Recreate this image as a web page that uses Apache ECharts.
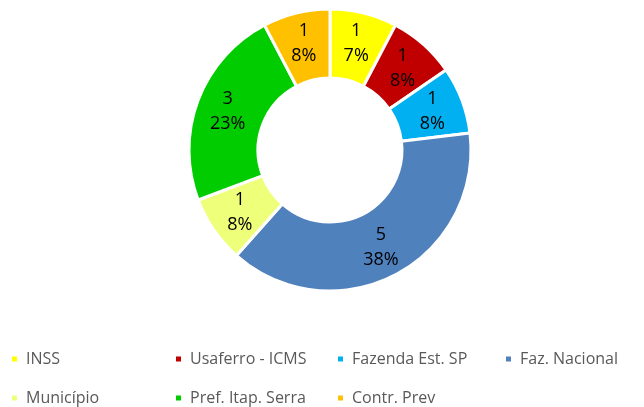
<!DOCTYPE html>
<html>
<head>
<meta charset="utf-8">
<script src="https://cdn.jsdelivr.net/npm/echarts@6/dist/echarts.min.js"></script>
<style>
  html, body { margin: 0; padding: 0; background: #fff; }
  #chart { width: 644px; height: 407px; }
</style>
</head>
<body>
<div id="chart"></div>
<script>
// dados do gráfico
var categorias = ['INSS', 'Usaferro - ICMS', 'Fazenda Est. SP', 'Faz. Nacional', 'Município', 'Pref. Itap. Serra', 'Contr. Prev'];
var valores = [1, 1, 1, 5, 1, 3, 1];
var percentuais = ['7%', '8%', '8%', '38%', '8%', '23%', '8%'];
var cores = ['#FFFF00', '#C00000', '#00B0F0', '#4F81BD', '#EEFF7A', '#00CC00', '#FFC000'];

// posição de cada item da legenda (duas linhas)
var legendaPos = [
  [5, 346], [169, 346], [331, 346], [499, 346],
  [5, 385], [169, 385], [331, 385]
];

var myChart = echarts.init(document.getElementById('chart'));

var legendas = categorias.map(function (nome, i) {
  return {
    left: legendaPos[i][0],
    top: legendaPos[i][1],
    orient: 'horizontal',
    itemWidth: 7,
    itemHeight: 7,
    itemGap: 0,
    icon: 'rect',
    selectedMode: false,
    data: [nome],
    textStyle: {
      color: '#595959',
      fontSize: 16,
      fontFamily: 'Open Sans, sans-serif',
      padding: [0, 0, 0, 3]
    }
  };
});

myChart.setOption({
  animation: false,
  color: cores,
  legend: legendas,
  series: [{
    type: 'pie',
    center: [330, 150],
    radius: [72, 141],
    startAngle: 90,
    clockwise: true,
    avoidLabelOverlap: false,
    itemStyle: {
      borderColor: '#fff',
      borderWidth: 3
    },
    label: {
      show: true,
      position: 'inside',
      color: '#000',
      fontSize: 18,
      lineHeight: 25,
      fontFamily: 'Open Sans, sans-serif',
      formatter: function (p) {
        return valores[p.dataIndex] + '\n' + percentuais[p.dataIndex];
      }
    },
    labelLine: { show: false },
    data: categorias.map(function (nome, i) {
      return { name: nome, value: valores[i] };
    })
  }]
});
</script>
</body>
</html>
